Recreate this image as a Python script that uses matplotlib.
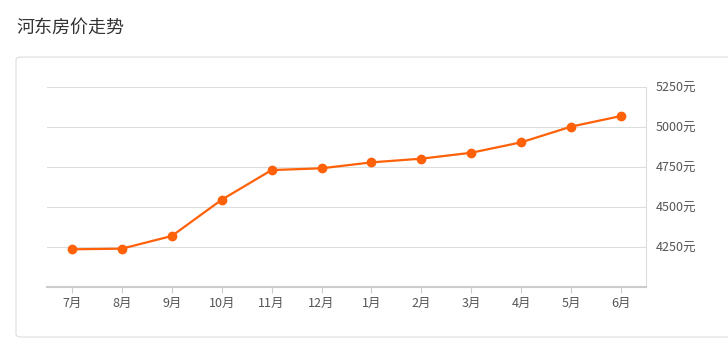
import matplotlib
matplotlib.use('Agg')
import matplotlib.pyplot as plt
from matplotlib.patches import FancyBboxPatch

plt.rcParams['font.family'] = ['Noto Sans CJK SC', 'DejaVu Sans']

months = ['7月', '8月', '9月', '10月', '11月', '12月', '1月', '2月', '3月', '4月', '5月', '6月']
prices = [4235, 4239, 4318, 4544, 4729, 4740, 4777, 4800, 4837, 4902, 5000, 5066]
y_ticks = [4250, 4500, 4750, 5000, 5250]
y_labels = ['4250元', '4500元', '4750元', '5000元', '5250元']

W, H = 728, 357
fig = plt.figure(figsize=(W / 100, H / 100), dpi=100)

# title and the rounded outer box
fig.text(16 / W, 1 - 28 / H, '河东房价走势', fontsize=13, color='#333333', va='center', ha='left')
box = FancyBboxPatch((16 / W, 1 - 337 / H), 730 / W, 280 / H,
                     boxstyle='round,pad=0,rounding_size=0.008',
                     transform=fig.transFigure, facecolor='white',
                     edgecolor='#dddddd', linewidth=0.8, clip_on=False, zorder=-1)
fig.patches.append(box)

ax = fig.add_axes([47 / W, 1 - 287 / H, 599 / W, 200.5 / H])
ax.set_zorder(2)
ax.set_facecolor('none')

x = list(range(len(months)))
ax.plot(x, prices, color='#ff6108', linewidth=1.6, marker='o', markersize=6,
        markerfacecolor='#ff6108', markeredgecolor='#ff6108', zorder=3)

ax.set_xlim(-0.5, len(months) - 0.5)
ax.set_ylim(4000, 5250)
ax.set_xticks(x)
ax.set_xticklabels(months)
ax.set_yticks(y_ticks)
ax.set_yticklabels(y_labels)
ax.yaxis.tick_right()
ax.grid(axis='y', color='#dddddd', linewidth=0.8)
ax.set_axisbelow(True)

for s in ['top', 'left']:
    ax.spines[s].set_visible(False)
ax.spines['right'].set_color('#dddddd')
ax.spines['right'].set_linewidth(0.8)
ax.spines['bottom'].set_color('#cccccc')
ax.spines['bottom'].set_linewidth(1.5)

ax.tick_params(axis='x', length=4, width=0.8, color='#cccccc', labelcolor='#555555',
               labelsize=9, pad=3)
ax.tick_params(axis='y', length=0, labelcolor='#555555', labelsize=9, pad=7)

fig.savefig('out.png', dpi=100)
